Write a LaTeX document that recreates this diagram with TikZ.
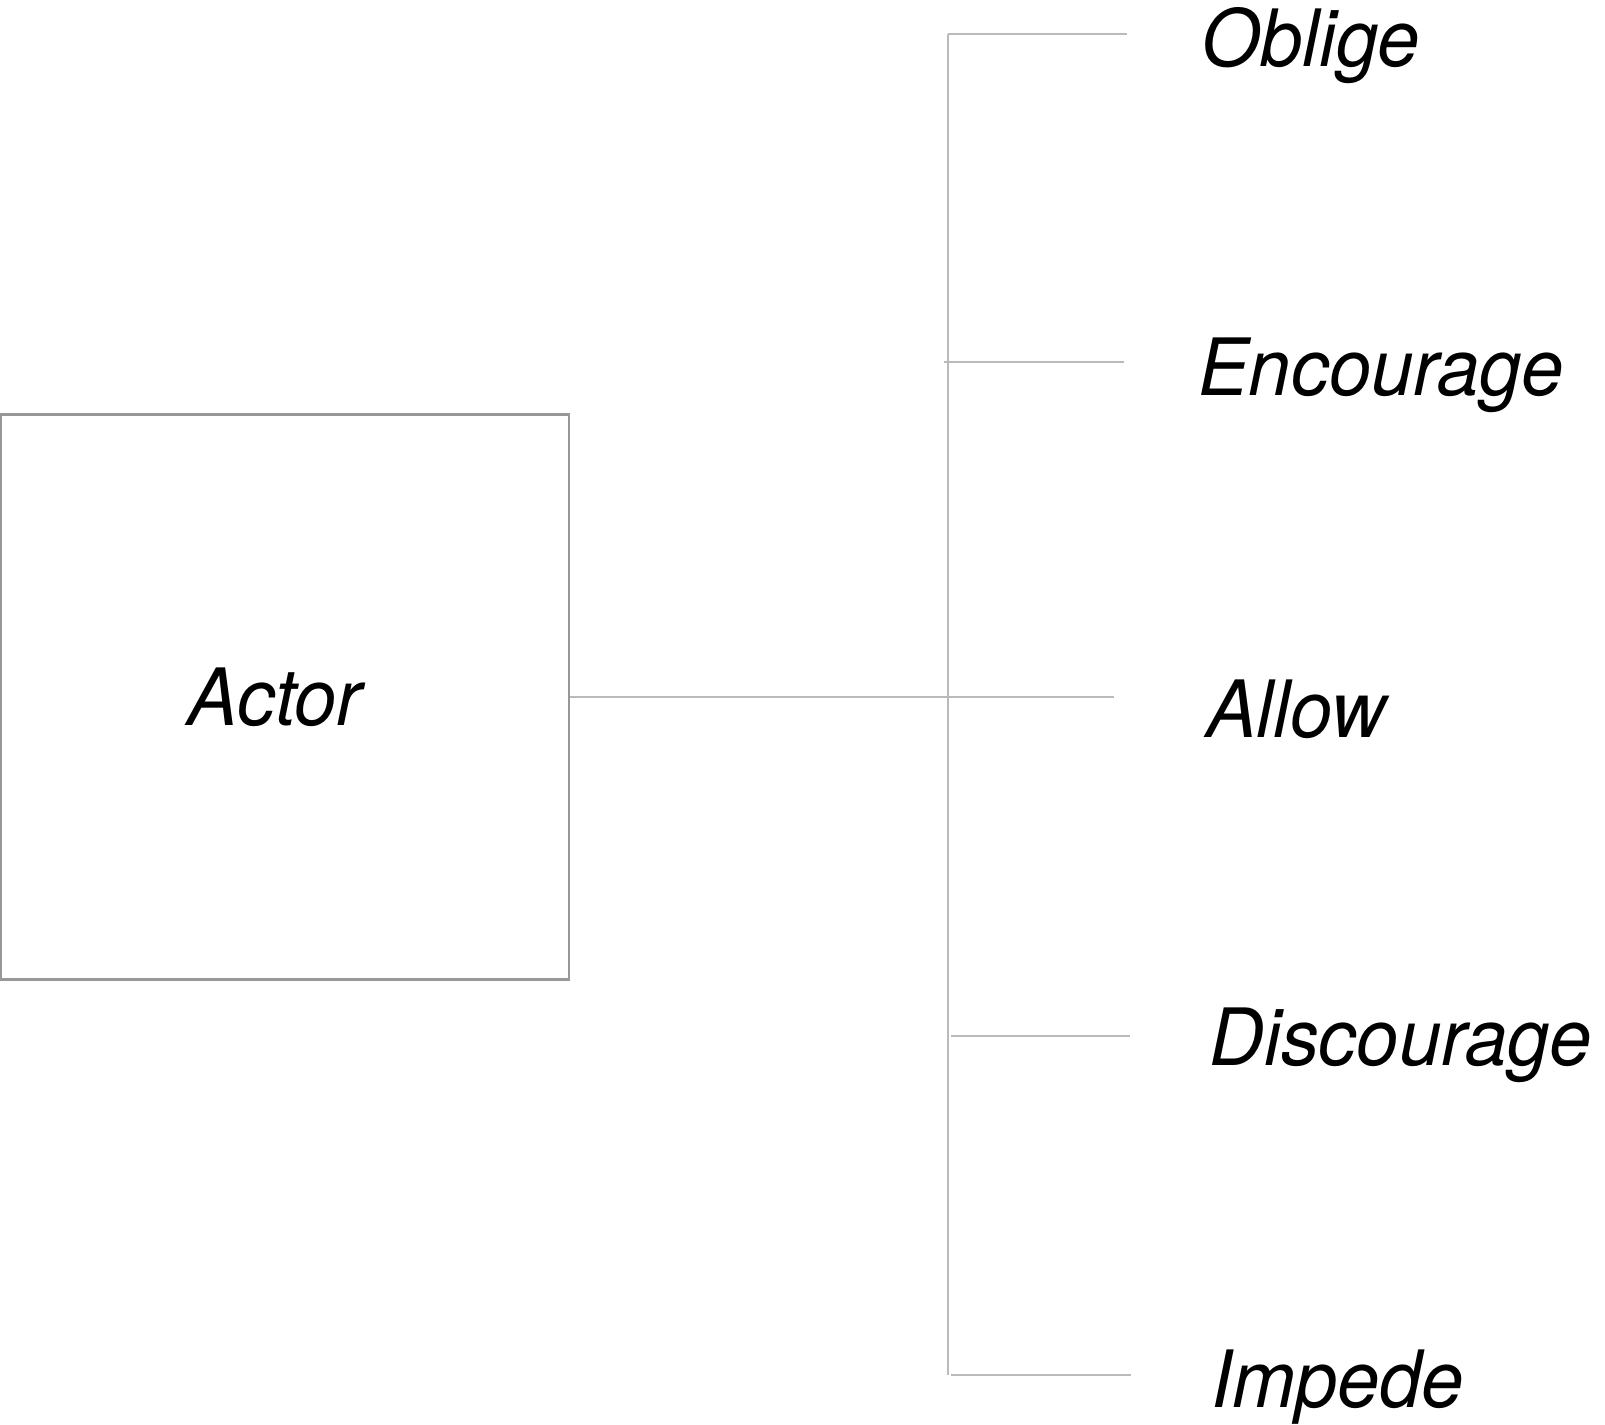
\documentclass[tikz,border=0pt]{standalone}
\usepackage{fontspec}
\setmainfont[FakeStretch=0.96]{TeX Gyre Heros}
\usetikzlibrary{positioning}
\definecolor{lineGray}{RGB}{186, 186, 186}
\definecolor{boxGray}{RGB}{152, 152, 152}

\begin{document}
\begin{tikzpicture}[x=0.02cm, y=-0.02cm,
  link/.style={draw=lineGray, line width=1.6pt},
  verb/.style={anchor=base west, inner sep=0pt, font=\fontsize{45}{50}\selectfont\itshape}]
  \useasboundingbox (0,0) rectangle (1605,1424);

  % Actor box
  \node[draw=boxGray, line width=1.6pt, minimum width=11.36cm, minimum height=11.3cm,
        inner sep=0pt, font=\fontsize{45}{50}\selectfont\itshape] (actor) at (285,697) {Actor\kern0.4cm};

  % Verbs on the right
  \node[verb] (oblige) at (1201,66) {Oblige};
  \node[verb] (encourage) at (1198,395) {Encourage};
  \node[verb] (allow) at (1206,737) {Allow};
  \node[verb] (discourage) at (1209,1065) {Discourage};
  \node[verb] (impede) at (1211,1407) {Impede};

  % Bus and branch ends
  \coordinate (busTop) at (948,34);
  \coordinate (busBottom) at (948,1375);
  \coordinate (busEnc) at (944,362);
  \coordinate (busDis) at (951,1036);
  \coordinate (busImp) at (951,1375);
  \coordinate (obligeEnd) at (1127,34);
  \coordinate (encourageEnd) at (1124,362);
  \coordinate (allowEnd) at (1114,697);
  \coordinate (discourageEnd) at (1130,1036);
  \coordinate (impedeEnd) at (1131,1375);

  \draw[link] (busTop) -- (busBottom);
  \draw[link] (busTop) -- (obligeEnd);
  \draw[link] (busEnc) -- (encourageEnd);
  \draw[link] (actor.east) -- (allowEnd);
  \draw[link] (busDis) -- (discourageEnd);
  \draw[link] (busImp) -- (impedeEnd);
\end{tikzpicture}
\end{document}
